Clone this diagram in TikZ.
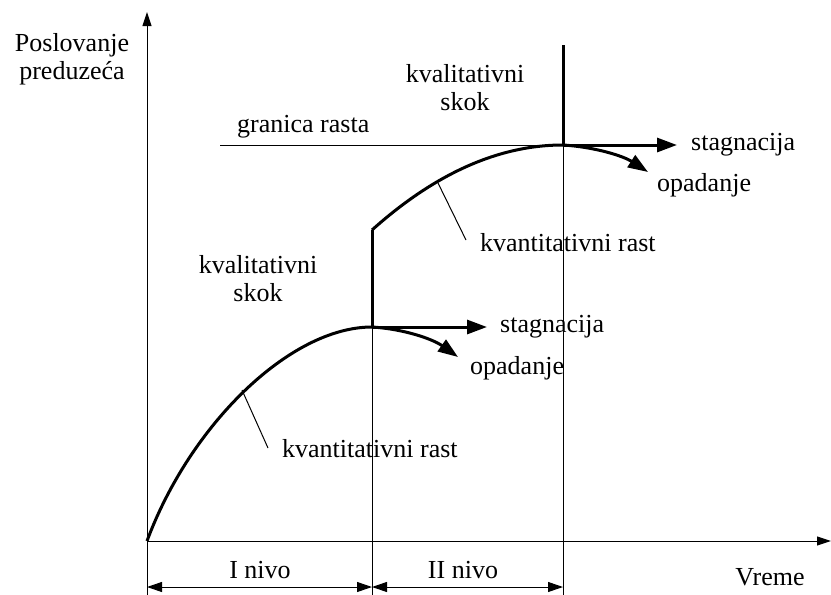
\documentclass[tikz,border=0pt]{standalone}
\usepackage{fontspec}
\setmainfont{Liberation Serif}
\usetikzlibrary{arrows.meta}
\begin{document}
\begin{tikzpicture}[x=1pt,y=-1pt,
  thinline/.style={line width=1pt},
  thickline/.style={line width=3pt},
  lbl/.style={font=\fontsize{26}{28}\selectfont, inner sep=0pt, align=center},
  bigarrow/.style={-{Triangle[length=20pt,width=14pt]}},
  axisarrow/.style={-{Triangle[length=14pt,width=9pt]}},
  dimarrow/.style={{Triangle[length=15pt,width=10pt]}-{Triangle[length=15pt,width=10pt]}}]
\useasboundingbox (0,0) rectangle (831,595);
% coordinates
\coordinate (O) at (147,541);
\coordinate (Ytop) at (147,12);
\coordinate (Ybot) at (147,595);
\coordinate (Xend) at (831,541);
\coordinate (P1) at (372,327);
\coordinate (P1b) at (372,595);
\coordinate (J1) at (372,230);
\coordinate (P2) at (563,145);
\coordinate (P2b) at (563,595);
\coordinate (J2) at (563,45);
\coordinate (G) at (220,145);
\coordinate (S1) at (487,327);
\coordinate (S2) at (677,145);
\coordinate (D1) at (458,357);
\coordinate (D2) at (648,172);
\coordinate (L1a) at (242,390);
\coordinate (L1b) at (268,448);
\coordinate (L2a) at (438,183);
\coordinate (L2b) at (466,240);
\coordinate (M0) at (147,587);
\coordinate (M1) at (372,587);
\coordinate (M2) at (563,587);
% axes
\draw[thinline, axisarrow] (Ybot) -- (Ytop);
\draw[thinline, axisarrow] (O) -- (Xend);
% thin verticals
\draw[thinline] (P1) -- (P1b);
\draw[thinline] (P2) -- (P2b);
% dimension arrows
\draw[thinline, dimarrow] (M0) -- (M1);
\draw[thinline, dimarrow] (M1) -- (M2);
% granica rasta
\draw[thinline] (G) -- (P2);
% curves
\draw[thickline] (O) .. controls (190,425) and (290,327) .. (P1);
\draw[thickline] (P1) -- (J1);
\draw[thickline] (J1) .. controls (435.3,173.3) and (499,145) .. (P2);
\draw[thickline] (P2) -- (J2);
% stagnacija / opadanje
\draw[thickline, bigarrow] (P1) -- (S1);
\draw[thickline, bigarrow] (P2) -- (S2);
\draw[thickline, bigarrow] (P1) .. controls (404,329) and (432.7,339) .. (D1);
\draw[thickline, bigarrow] (P2) .. controls (595,147) and (623.3,156) .. (D2);
% leader lines
\draw[thinline] (L1a) -- (L1b);
\draw[thinline] (L2a) -- (L2b);
% labels
\node[lbl] (ylab) at (72,59) {Poslovanje\\preduzeća};
\node[lbl, anchor=west] (gr) at (237,127) {granica rasta};
\node[lbl] (ks2) at (465,88) {kvalitativni\\skok};
\node[lbl] (ks1) at (258,279) {kvalitativni\\skok};
\node[lbl, anchor=west] (kr2) at (480,243) {kvantitativni rast};
\node[lbl, anchor=west] (kr1) at (282,449) {kvantitativni rast};
\node[lbl, anchor=west] (st1) at (500,327) {stagnacija};
\node[lbl, anchor=west] (st2) at (691,145) {stagnacija};
\node[lbl, anchor=west] (op1) at (470,368) {opadanje};
\node[lbl, anchor=west] (op2) at (657,185) {opadanje};
\node[lbl] (n1) at (260,570) {I nivo};
\node[lbl] (n2) at (463,570) {II nivo};
\node[lbl] (vr) at (770,577) {Vreme};
\end{tikzpicture}
\end{document}
